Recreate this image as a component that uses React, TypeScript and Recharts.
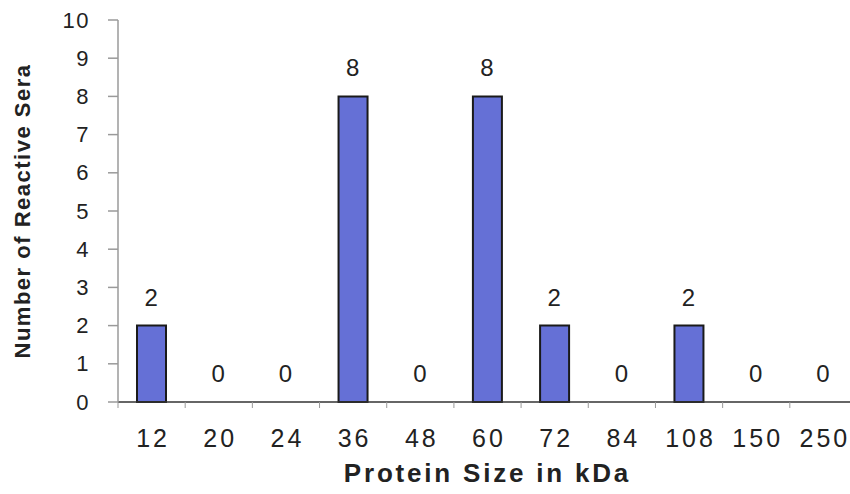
import React from 'react';
import { ComposedChart, Bar, Line, XAxis, YAxis, LabelList, Label } from 'recharts';

const categories = ['12', '20', '24', '36', '48', '60', '72', '84', '108', '150', '250'];
const counts = [2, 0, 0, 8, 0, 8, 2, 0, 2, 0, 0];
const yTicks = [0, 1, 2, 3, 4, 5, 6, 7, 8, 9, 10];

const data = categories.map((c, i) => ({ size: c, v: counts[i] }));

const FONT = '"Liberation Sans", Arial, sans-serif';

const XTick = (props: any) => {
  const { x, y, payload, index } = props;
  const half = payload && payload.offset ? payload.offset : 33.6;
  return (
    <g>
      <line x1={x - half} x2={x - half} y1={y - 6} y2={y} stroke="#999" strokeWidth={1} />
      {index === categories.length - 1 ? (
        <line x1={x + half} x2={x + half} y1={y - 6} y2={y} stroke="#999" strokeWidth={1} />
      ) : null}
      <text
        x={x + 1.5}
        y={y + 30}
        textAnchor="middle"
        dominantBaseline="central"
        fontSize={25}
        letterSpacing={3}
        fill="#222"
        fontFamily={FONT}
      >
        {payload.value}
      </text>
    </g>
  );
};

const YTick = (props: any) => {
  const { x, y, payload } = props;
  return (
    <text
      x={x}
      y={y}
      textAnchor="end"
      dominantBaseline="central"
      fontSize={22}
      letterSpacing={1.5}
      fill="#222"
      fontFamily={FONT}
    >
      {payload.value}
    </text>
  );
};

const YLabel = (props: any) => {
  const vb = props.viewBox || { x: 0, y: 20, width: 118, height: 382 };
  const cx = 22;
  const cy = vb.y + vb.height / 2;
  return (
    <text
      x={cx}
      y={cy}
      transform={`rotate(-90, ${cx}, ${cy})`}
      textAnchor="middle"
      dominantBaseline="central"
      fontSize={22}
      fontWeight="bold"
      letterSpacing={1.5}
      fill="#222"
      fontFamily={FONT}
    >
      Number of Reactive Sera
    </text>
  );
};

export default function App() {
  return (
    <div
      style={{
        position: 'fixed',
        left: 0,
        top: 0,
        width: 850,
        height: 494,
        overflow: 'hidden',
        background: '#ffffff',
      }}
    >
      <ComposedChart
        width={880}
        height={494}
        data={data}
        margin={{ top: 20, right: 23, left: 0, bottom: 32 }}
        style={{ fontFamily: FONT }}
      >
        <XAxis
          dataKey="size"
          height={60}
          tickSize={6}
          tickMargin={0}
          tickLine={false}
          tick={<XTick />}
          axisLine={{ stroke: '#333', strokeWidth: 1.5 }}
          interval={0}
        >
          <Label
            value="Protein Size in kDa"
            position="bottom"
            offset={2}
            fontSize={26}
            fontWeight="bold"
            letterSpacing={2.8}
            fill="#222"
            fontFamily={FONT}
          />
        </XAxis>
        <YAxis
          width={118}
          domain={[0, 10]}
          ticks={yTicks}
          interval={0}
          tickSize={10}
          tickMargin={18}
          axisLine={{ stroke: '#9a9a9a', strokeWidth: 1.5 }}
          tickLine={{ stroke: '#9a9a9a', strokeWidth: 1.5 }}
          tick={<YTick />}
        >
          <Label content={<YLabel />} />
        </YAxis>
        <Bar
          dataKey="v"
          barSize={29}
          fill="#6570d6"
          stroke="#1a1a1a"
          strokeWidth={2}
          isAnimationActive={false}
        />
        <Line
          dataKey="v"
          stroke="none"
          dot={false}
          activeDot={false}
          legendType="none"
          isAnimationActive={false}
        >
          <LabelList
            dataKey="v"
            position="top"
            offset={20}
            fill="#222"
            fontSize={24}
            letterSpacing={1}
            fontFamily={FONT}
          />
        </Line>
      </ComposedChart>
    </div>
  );
}
